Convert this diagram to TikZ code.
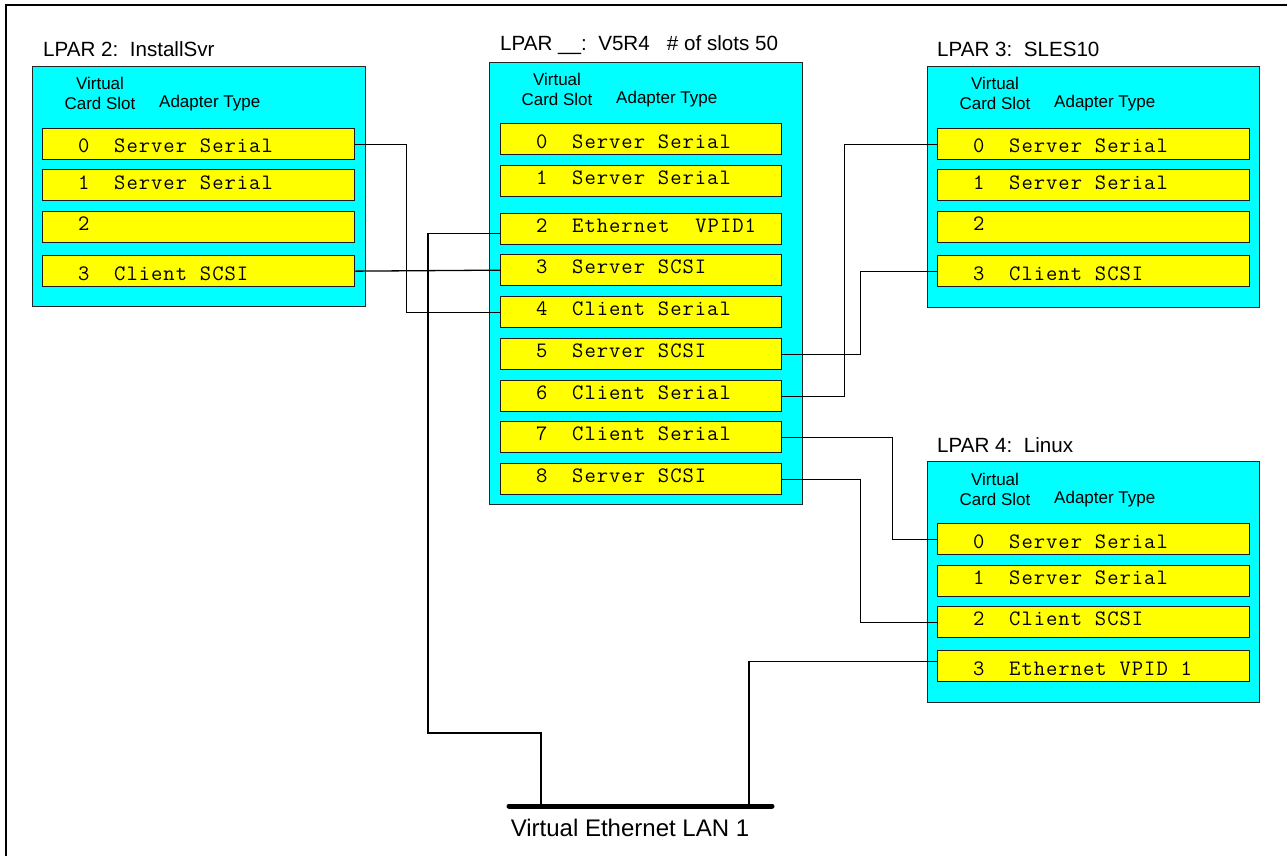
\documentclass[tikz,border=0pt]{standalone}
\usepackage{fontspec}
\setmainfont{Liberation Sans}
\newfontfamily\slotfont{Latin Modern Mono}[LetterSpace=4.5, WordSpace=1.04]
\usetikzlibrary{calc}
\definecolor{boxcyan}{HTML}{00FFFF}
\definecolor{slotyellow}{HTML}{FFFF00}
\tikzset{
  lparbox/.style={draw=black!85, fill=boxcyan, line width=1.3pt, inner sep=0pt, anchor=north west},
  slotbox/.style={draw=black!90, fill=slotyellow, line width=1.3pt, inner sep=0pt, minimum height=31pt, anchor=north west},
  slottxt/.style={font=\fontsize{22}{25}\slotfont, inner sep=0pt, anchor=base west},
  hdr/.style={font=\fontsize{17}{20}\selectfont, inner sep=0pt},
  ttl/.style={font=\fontsize{20.6}{24}\selectfont, inner sep=0pt, anchor=base west},
  wire/.style={draw=black, line width=1.3pt},
  lanbar/.style={draw=black, line width=5pt, line cap=round},
  frame/.style={draw=black, line width=1.5pt},
}
% #1 name, #2 x, #3 y top, #4 width, #5 baseline offset, #6 digit, #7 type
\newcommand\mkslot[7]{%
  \node[slotbox, minimum width=#4] (#1) at (#2,#3) {};
  \node[slottxt] (#1d) at (#2+36,#3+#5) {#6};
  \node[slottxt] (#1t) at (#2+72,#3+#5) {#7};
}
\newcommand\mkhead[3]{%
  \node[hdr, anchor=base] (#1v) at (#2+68,#3+24) {Virtual};
  \node[hdr, anchor=base] (#1c) at (#2+68,#3+44) {Card Slot};
  \node[hdr, anchor=base west] (#1a) at (#2+127,#3+42) {Adapter Type};
}
\begin{document}
\begin{tikzpicture}[x=1pt,y=-1pt]
\useasboundingbox (0,0) rectangle (1287,856);
\draw[frame] (6,858) -- (6,5) -- (1289,5);

% ---- LPAR 2
\node[ttl] (t2) at (43,57) {LPAR 2:~~InstallSvr};
\node[lparbox, minimum width=333pt, minimum height=240pt] (L2) at (32,66) {};
\mkhead{h2}{32}{66}
\mkslot{a0}{42}{128}{312pt}{25}{0}{Server Serial}
\mkslot{a1}{42}{169}{312pt}{20}{1}{Server Serial}
\mkslot{a2}{42}{211}{312pt}{19}{2}{}
\mkslot{a3}{42}{255}{312pt}{25}{3}{Client SCSI}

% ---- middle LPAR
\node[ttl] (tm) at (500,51) {LPAR \_\_:~~V5R4~~~\#~of slots 50};
\node[lparbox, minimum width=313pt, minimum height=442pt] (LM) at (489,62) {};
\mkhead{hm}{489}{62}
\mkslot{m0}{500}{123}{281pt}{26}{0}{Server Serial}
\mkslot{m1}{500}{165}{281pt}{19}{1}{Server Serial}
\mkslot{m2}{500}{213}{281pt}{19}{2}{Ethernet~ VPID1}
\mkslot{m3}{500}{254}{281pt}{19}{3}{Server SCSI}
\mkslot{m4}{500}{296}{281pt}{19}{4}{Client Serial}
\mkslot{m5}{500}{338}{281pt}{19}{5}{Server SCSI}
\mkslot{m6}{500}{380}{281pt}{19}{6}{Client Serial}
\mkslot{m7}{500}{421}{281pt}{19}{7}{Client Serial}
\mkslot{m8}{500}{463}{281pt}{19}{8}{Server SCSI}

% ---- LPAR 3
\node[ttl] (t3) at (937,57) {LPAR 3:~~SLES10};
\node[lparbox, minimum width=332pt, minimum height=241pt] (L3) at (927,66) {};
\mkhead{h3}{927}{66}
\mkslot{b0}{937}{128}{312pt}{25}{0}{Server Serial}
\mkslot{b1}{937}{169}{312pt}{20}{1}{Server Serial}
\mkslot{b2}{937}{211}{312pt}{19}{2}{}
\mkslot{b3}{937}{255}{312pt}{25}{3}{Client SCSI}

% ---- LPAR 4
\node[ttl] (t4) at (937,452) {LPAR 4:~~Linux};
\node[lparbox, minimum width=332pt, minimum height=241pt] (L4) at (927,461) {};
\mkhead{h4}{927}{461}
\mkslot{c0}{937}{523}{312pt}{25}{0}{Server Serial}
\mkslot{c1}{937}{565}{312pt}{19}{1}{Server Serial}
\mkslot{c2}{937}{606}{312pt}{19}{2}{Client SCSI}
\mkslot{c3}{937}{650}{312pt}{25}{3}{Ethernet VPID 1}

% ---- LAN
\coordinate (lanL) at (509,806);
\coordinate (lanR) at (772,806);
\coordinate (lanA) at (541,806);
\coordinate (lanB) at (749,806);
\draw[lanbar] (lanL) -- (lanR);
\node[font=\fontsize{24}{28}\selectfont, inner sep=0pt, anchor=base] (lanlbl) at (630,836) {Virtual Ethernet LAN 1};

% ---- connectors
\draw[wire] (a0.east) -- ++(51,0) |- (m4.west);
\draw[wire] (a3.east) -- (m3.west);
\draw[wire] ([yshift=-4pt]m2.west) -| (428,733) -| (lanA);
\draw[wire] ([yshift=5pt]c3.west) -| (lanB);
\draw[wire] (m5.east) -- ++(78,0) |- (b3.west);
\draw[wire] (m6.east) -- ++(62,0) |- (b0.west);
\draw[wire] (m7.east) -- ++(110,0) |- (c0.west);
\draw[wire] (m8.east) -- ++(78,0) |- (c2.west);
\end{tikzpicture}
\end{document}
